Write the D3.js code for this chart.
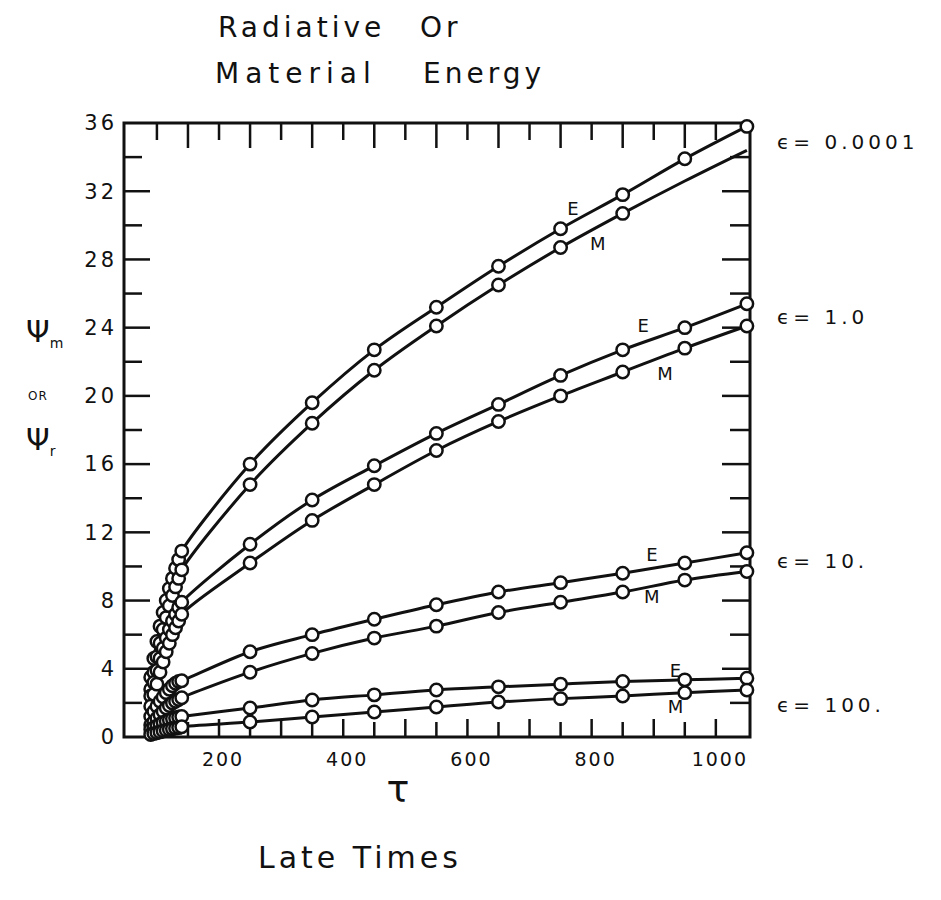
<!DOCTYPE html>
<html>
<head>
<meta charset="utf-8">
<script src="https://cdn.jsdelivr.net/npm/d3@7"></script>
<style>
  body { margin: 0; background: #fff; }
  text { font-family: "DejaVu Sans", sans-serif; fill: #111; }
</style>
</head>
<body>
<div id="chart"></div>
<script>
// tau sample points: early dense cluster, then every 100
const tauEarly = [90, 95, 100, 105, 110, 115, 120, 125, 130, 135];
const tauMain = [140, 250, 350, 450, 550, 650, 750, 850, 950, 1050];
const tau = tauEarly.concat(tauMain);

// psi values (E = radiative, M = material)
const eps0001E = [3.5, 4.6, 5.6, 6.5, 7.3, 8.0, 8.7, 9.3, 9.9, 10.4,
  10.9, 16.0, 19.6, 22.7, 25.2, 27.6, 29.8, 31.8, 33.9, 35.8];
const eps0001M = [2.8, 3.8, 4.7, 5.5, 6.3, 7.0, 7.7, 8.3, 8.8, 9.3,
  9.8, 14.8, 18.4, 21.5, 24.1, 26.5, 28.7, 30.7, 32.6, 34.4];
const eps1E = [2.4, 3.2, 3.9, 4.6, 5.2, 5.8, 6.3, 6.8, 7.2, 7.6,
  7.9, 11.3, 13.9, 15.9, 17.8, 19.5, 21.2, 22.7, 24.0, 25.4];
const eps1M = [1.8, 2.5, 3.1, 3.8, 4.4, 5.0, 5.5, 6.0, 6.4, 6.8,
  7.2, 10.2, 12.7, 14.8, 16.8, 18.5, 20.0, 21.4, 22.8, 24.1];
const eps10E = [1.2, 1.5, 1.8, 2.1, 2.35, 2.6, 2.8, 3.0, 3.15, 3.25,
  3.3, 5.0, 6.0, 6.9, 7.75, 8.5, 9.05, 9.6, 10.2, 10.8];
const eps10M = [0.7, 0.9, 1.1, 1.3, 1.5, 1.7, 1.85, 2.0, 2.1, 2.2,
  2.3, 3.8, 4.9, 5.8, 6.5, 7.3, 7.9, 8.5, 9.2, 9.7];
const eps100E = [0.45, 0.55, 0.65, 0.75, 0.85, 0.92, 1.0, 1.07, 1.12, 1.17,
  1.2, 1.7, 2.17, 2.47, 2.76, 2.94, 3.1, 3.25, 3.35, 3.45];
const eps100M = [0.15, 0.2, 0.25, 0.3, 0.35, 0.4, 0.44, 0.48, 0.52, 0.55,
  0.6, 0.88, 1.17, 1.47, 1.76, 2.05, 2.25, 2.4, 2.6, 2.75];

const series = [
  { name: "0.0001 E", values: eps0001E },
  { name: "0.0001 M", values: eps0001M, bare: [950, 1050] },
  { name: "1.0 E", values: eps1E },
  { name: "1.0 M", values: eps1M },
  { name: "10. E", values: eps10E },
  { name: "10. M", values: eps10M },
  { name: "100. E", values: eps100E },
  { name: "100. M", values: eps100M }
];

const epsLabels = ["0.0001", "1.0", "10.", "100."];
const epsLabelAt = [34.9, 24.6, 10.3, 1.9];
const xTickLabels = [200, 400, 600, 800, 1000];
const yTickLabels = [0, 4, 8, 12, 16, 20, 24, 28, 32, 36];

// E / M tags next to the curves
const tags = [
  { text: "E", tau: 770, v: 31.0 },
  { text: "M", tau: 810, v: 28.9 },
  { text: "E", tau: 883, v: 24.1 },
  { text: "M", tau: 918, v: 21.3 },
  { text: "E", tau: 897, v: 10.7 },
  { text: "M", tau: 897, v: 8.2 },
  { text: "E", tau: 935, v: 3.9 },
  { text: "M", tau: 935, v: 1.8 }
];

const width = 941, height = 900;
const svg = d3.select("#chart").append("svg")
  .attr("width", width).attr("height", height);

const x = d3.scaleLinear().domain([47, 1055]).range([124, 750]);
const y = d3.scaleLinear().domain([0, 36]).range([737, 123]);
const [x0, x1] = x.domain();

// frame
svg.append("rect")
  .attr("x", x(x0)).attr("y", y(36))
  .attr("width", x(x1) - x(x0)).attr("height", y(0) - y(36))
  .attr("fill", "none").attr("stroke", "#111").attr("stroke-width", 3);

// ticks
const yTicks = d3.range(2, 36, 2);
svg.append("g").selectAll("line").data(yTicks).join("line")
  .attr("x1", x(x0)).attr("x2", (d) => x(x0) + (d % 4 === 0 ? 26 : 18))
  .attr("y1", (d) => y(d)).attr("y2", (d) => y(d))
  .attr("stroke", "#111").attr("stroke-width", 2.5);
svg.append("g").selectAll("line").data(yTicks).join("line")
  .attr("x1", x(x1)).attr("x2", (d) => x(x1) - (d % 4 === 0 ? 28 : 20))
  .attr("y1", (d) => y(d)).attr("y2", (d) => y(d))
  .attr("stroke", "#111").attr("stroke-width", 2.5);

const xTicks = d3.range(100, 1050, 50);
svg.append("g").selectAll("line").data(xTicks).join("line")
  .attr("x1", (d) => x(d)).attr("x2", (d) => x(d))
  .attr("y1", y(0)).attr("y2", (d) => y(0) - (d % 100 === 0 ? 18 : 15))
  .attr("stroke", "#111").attr("stroke-width", 2.5);
svg.append("g").selectAll("line").data(xTicks).join("line")
  .attr("x1", (d) => x(d)).attr("x2", (d) => x(d))
  .attr("y1", y(36)).attr("y2", (d) => y(36) + (d % 100 === 0 ? 17 : 25))
  .attr("stroke", "#111").attr("stroke-width", 2.5);

// tick labels
svg.append("g").selectAll("text").data(yTickLabels).join("text")
  .attr("x", 117).attr("y", (d) => y(d))
  .attr("dy", "0.35em").attr("text-anchor", "end")
  .style("font-size", "21px").style("letter-spacing", "3px")
  .text((d) => d);
svg.append("g").selectAll("text").data(xTickLabels).join("text")
  .attr("x", (d) => x(d) + 4).attr("y", y(0) + 22)
  .attr("dy", "0.35em").attr("text-anchor", "middle")
  .style("font-size", "19px").style("letter-spacing", "2px")
  .text((d) => d);

// curves
const line = d3.line()
  .x((d) => x(d[0])).y((d) => y(d[1]))
  .curve(d3.curveCatmullRom);

series.forEach((s) => {
  const pts = tau.map((t, i) => [t, s.values[i]]);
  svg.append("path").datum(pts)
    .attr("d", line)
    .attr("fill", "none").attr("stroke", "#111").attr("stroke-width", 3);
});
series.forEach((s) => {
  const pts = tau.map((t, i) => [t, s.values[i]])
    .filter((p) => !(s.bare || []).includes(p[0]));
  svg.append("g").selectAll("circle").data(pts).join("circle")
    .attr("cx", (d) => x(d[0])).attr("cy", (d) => y(d[1]))
    .attr("r", 6.2)
    .attr("fill", "#fff").attr("stroke", "#111").attr("stroke-width", 2.5);
});

// E / M tags
svg.append("g").selectAll("text").data(tags).join("text")
  .attr("x", (d) => x(d.tau)).attr("y", (d) => y(d.v))
  .attr("text-anchor", "middle").attr("dy", "0.35em")
  .style("font-size", "18px")
  .text((d) => d.text);

// epsilon labels
svg.append("g").selectAll("text").data(epsLabels).join("text")
  .attr("x", 777).attr("y", (d, i) => y(epsLabelAt[i]))
  .attr("dy", "0.35em")
  .style("font-size", "20px").style("letter-spacing", "4px")
  .text((d) => "\u03f5= " + d);

// titles
svg.append("text").attr("x", 218).attr("y", 37)
  .style("font-size", "28px").style("letter-spacing", "4px")
  .text("Radiative");
svg.append("text").attr("x", 420).attr("y", 37)
  .style("font-size", "28px").style("letter-spacing", "4px")
  .text("Or");
svg.append("text").attr("x", 215).attr("y", 83)
  .style("font-size", "28px").style("letter-spacing", "6px")
  .text("Material");
svg.append("text").attr("x", 423).attr("y", 83)
  .style("font-size", "28px").style("letter-spacing", "4px")
  .text("Energy");

// y axis name
const yl = svg.append("g");
yl.append("text").attr("x", 26).attr("y", 342).style("font-size", "30px")
  .text("\u03a8").append("tspan").attr("dy", 6).style("font-size", "14px").text("m");
yl.append("text").attr("x", 28).attr("y", 400).style("font-size", "12px")
  .style("letter-spacing", "1px").text("OR");
yl.append("text").attr("x", 26).attr("y", 450).style("font-size", "30px")
  .text("\u03a8").append("tspan").attr("dy", 6).style("font-size", "14px").text("r");

// x axis name
svg.append("text").attr("x", 398).attr("y", 802).attr("text-anchor", "middle")
  .style("font-size", "38px").text("\u03c4");
svg.append("text").attr("x", 258).attr("y", 868)
  .style("font-size", "30px").style("letter-spacing", "4px")
  .text("Late   Times");
</script>
</body>
</html>
